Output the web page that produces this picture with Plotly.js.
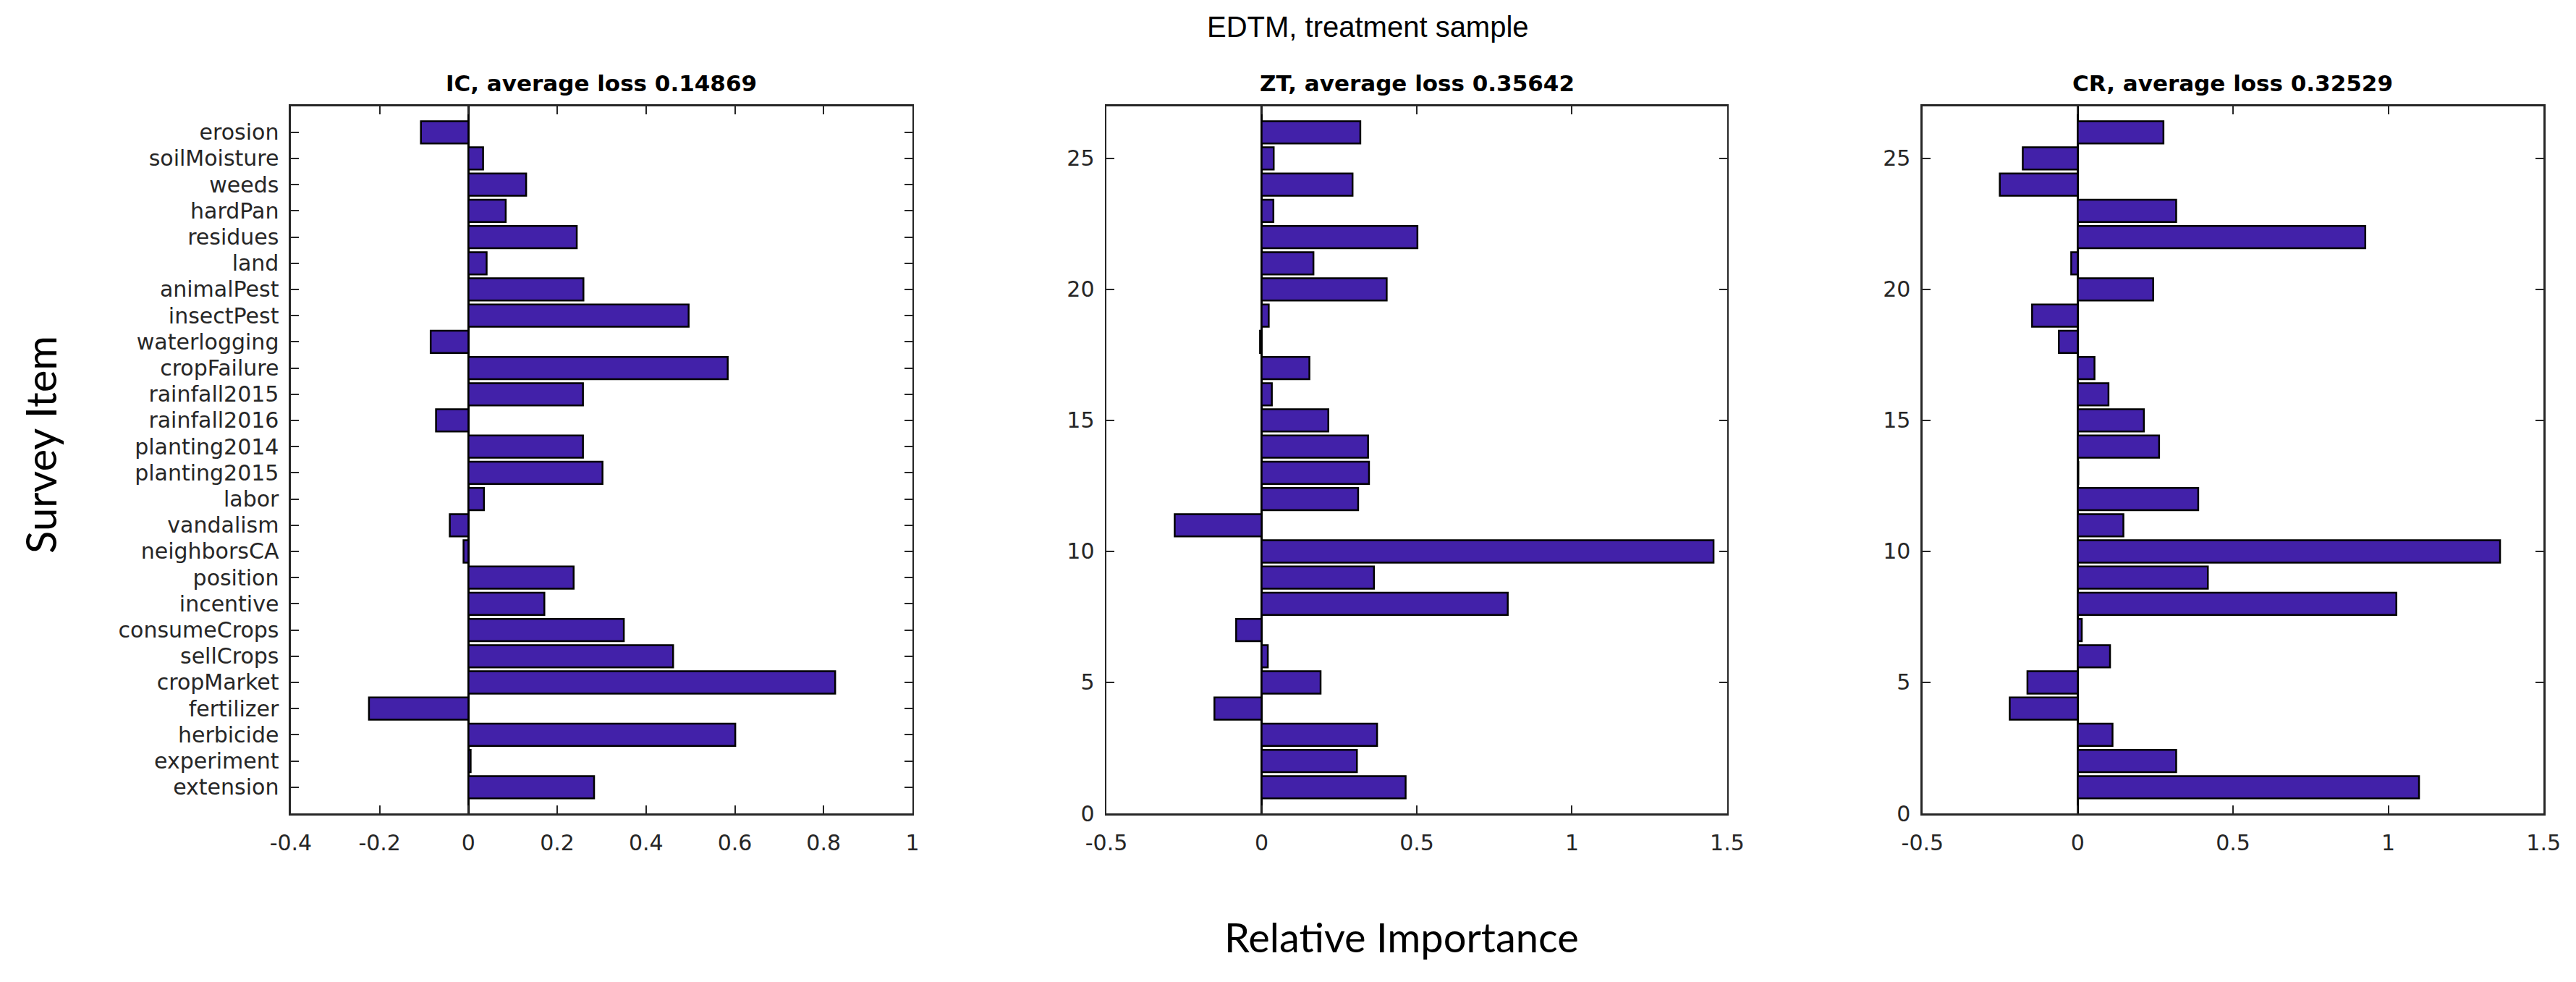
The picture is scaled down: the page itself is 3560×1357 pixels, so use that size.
<!DOCTYPE html>
<html>
<head>
<meta charset="utf-8">
<script src="https://cdn.plot.ly/plotly-3.0.1.min.js"></script>
<style>html,body{margin:0;padding:0;background:#fff;}#chart{width:3560px;height:1357px;}</style>
</head>
<body>
<div id="chart"></div>
<script>
// Survey items, listed from top of the chart to bottom
const items = ["erosion","soilMoisture","weeds","hardPan","residues","land","animalPest","insectPest","waterlogging","cropFailure","rainfall2015","rainfall2016","planting2014","planting2015","labor","vandalism","neighborsCA","position","incentive","consumeCrops","sellCrops","cropMarket","fertilizer","herbicide","experiment","extension"];

// Relative importance, same order as items
const icValues = [-0.107,0.033,0.130,0.084,0.244,0.041,0.259,0.496,-0.085,0.584,0.258,-0.073,0.258,0.302,0.035,-0.042,-0.011,0.237,0.171,0.350,0.461,0.826,-0.224,0.601,0.005,0.283];
const ztValues = [0.318,0.039,0.293,0.038,0.502,0.167,0.403,0.023,-0.005,0.154,0.033,0.215,0.343,0.346,0.311,-0.280,1.456,0.362,0.793,-0.082,0.020,0.190,-0.152,0.372,0.307,0.464];
const crValues = [0.276,-0.177,-0.251,0.317,0.926,-0.021,0.243,-0.147,-0.061,0.054,0.099,0.213,0.262,0.002,0.388,0.147,1.360,0.419,1.026,0.013,0.104,-0.162,-0.219,0.112,0.317,1.099];

const panelTitles = ["IC, average loss 0.14869","ZT, average loss 0.35642","CR, average loss 0.32529"];
const icTicks = [-0.4,-0.2,0,0.2,0.4,0.6,0.8,1];
const icTickText = ["-0.4","-0.2","0","0.2","0.4","0.6","0.8","1"];
const otherTicks = [-0.5,0,0.5,1,1.5];
const otherTickText = ["-0.5","0","0.5","1","1.5"];
const yNumTicks = [0,5,10,15,20,25];

const positions = items.map((_, i) => items.length - i);
const barColor = '#4221A9';
const tickFont = {family: 'DejaVu Sans, Liberation Sans, sans-serif', size: 30, color: '#262626'};

function barTrace(vals, xa, ya) {
  return {
    type: 'bar', orientation: 'h', x: vals, y: positions,
    xaxis: xa, yaxis: ya, width: 0.85,
    marker: {color: barColor, line: {color: '#000', width: 2.5}},
    hoverinfo: 'x+y', showlegend: false
  };
}

const data = [
  barTrace(icValues, 'x', 'y'),
  barTrace(ztValues, 'x2', 'y2'),
  barTrace(crValues, 'x3', 'y3')
];

const axisCommon = {
  showline: true, mirror: 'ticks', linecolor: '#262626', linewidth: 2.5,
  ticks: 'inside', ticklen: 11, tickwidth: 2, tickcolor: '#262626',
  showgrid: false, tickfont: tickFont, fixedrange: true
};
const yDom = [0.1717, 0.892];
const xDoms = [[0.1129, 0.3542], [0.4295, 0.6705], [0.7463, 0.9874]];
const titleFont = {family: 'DejaVu Sans, Liberation Sans, sans-serif', size: 31, color: '#000'};

const layout = {
  width: 3560, height: 1357,
  margin: {l: 0, r: 0, t: 0, b: 0},
  paper_bgcolor: '#fff', plot_bgcolor: '#fff',
  bargap: 0,
  xaxis: Object.assign({}, axisCommon, {domain: xDoms[0], anchor: 'y', range: [-0.4, 1], tickvals: icTicks, ticktext: icTickText, zeroline: true, zerolinecolor: '#000', zerolinewidth: 2.5, ticklabelstandoff: 12}),
  yaxis: Object.assign({}, axisCommon, {domain: yDom, anchor: 'x', range: [0, 27], tickvals: positions, ticktext: items, zeroline: false, ticklabelstandoff: 8}),
  xaxis2: Object.assign({}, axisCommon, {domain: xDoms[1], anchor: 'y2', range: [-0.5, 1.5], tickvals: otherTicks, ticktext: otherTickText, zeroline: true, zerolinecolor: '#000', zerolinewidth: 2.5, ticklabelstandoff: 12}),
  yaxis2: Object.assign({}, axisCommon, {domain: yDom, anchor: 'x2', range: [0, 27], tickvals: yNumTicks, zeroline: false, ticklabelstandoff: 8}),
  xaxis3: Object.assign({}, axisCommon, {domain: xDoms[2], anchor: 'y3', range: [-0.5, 1.5], tickvals: otherTicks, ticktext: otherTickText, zeroline: true, zerolinecolor: '#000', zerolinewidth: 2.5, ticklabelstandoff: 12}),
  yaxis3: Object.assign({}, axisCommon, {domain: yDom, anchor: 'x3', range: [0, 27], tickvals: yNumTicks, zeroline: false, ticklabelstandoff: 8}),
  annotations: [
    {text: 'EDTM, treatment sample', xref: 'paper', yref: 'paper', x: 1890/3560, y: 1 - 37/1357, xanchor: 'center', yanchor: 'middle', showarrow: false, font: {family: 'Liberation Sans, Arial, sans-serif', size: 40, color: '#000'}},
    {text: '<b>' + panelTitles[0] + '</b>', xref: 'paper', yref: 'paper', x: (xDoms[0][0] + xDoms[0][1]) / 2, y: 1 - 115/1357, xanchor: 'center', yanchor: 'middle', showarrow: false, font: titleFont},
    {text: '<b>' + panelTitles[1] + '</b>', xref: 'paper', yref: 'paper', x: (xDoms[1][0] + xDoms[1][1]) / 2, y: 1 - 115/1357, xanchor: 'center', yanchor: 'middle', showarrow: false, font: titleFont},
    {text: '<b>' + panelTitles[2] + '</b>', xref: 'paper', yref: 'paper', x: (xDoms[2][0] + xDoms[2][1]) / 2, y: 1 - 115/1357, xanchor: 'center', yanchor: 'middle', showarrow: false, font: titleFont},
    {text: 'Survey Item', xref: 'paper', yref: 'paper', x: 55/3560, y: 1 - 615/1357, xanchor: 'center', yanchor: 'middle', textangle: -90, showarrow: false, font: {family: 'Lato, Open Sans, sans-serif', size: 58, color: '#000'}},
    {text: 'Relative Importance', xref: 'paper', yref: 'paper', x: 1937/3560, y: 1 - 1294/1357, xanchor: 'center', yanchor: 'middle', showarrow: false, font: {family: 'Lato, Open Sans, sans-serif', size: 56, color: '#000'}}
  ]
};

Plotly.newPlot('chart', data, layout, {staticPlot: true, displayModeBar: false});
</script>
</body>
</html>
